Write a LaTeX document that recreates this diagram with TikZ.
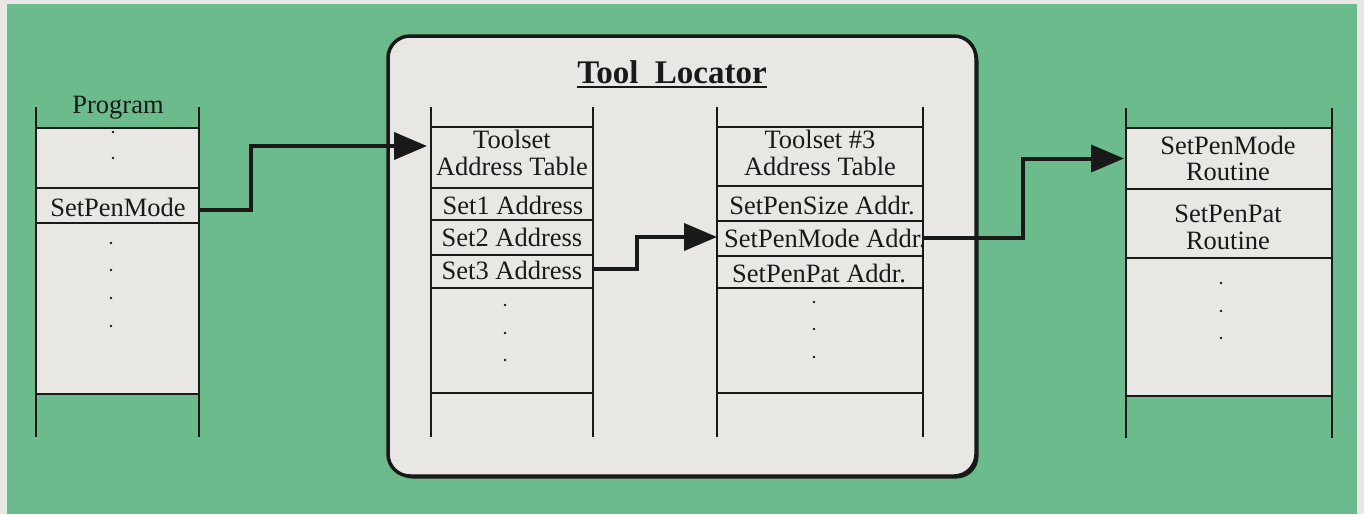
\documentclass[tikz,border=0pt]{standalone}
\usepackage{fontspec}
\setmainfont{Liberation Serif}
\usetikzlibrary{arrows.meta,shadows}
\definecolor{bggreen}{RGB}{108,187,140}
\definecolor{paper}{RGB}{233,231,227}
\definecolor{ink}{RGB}{25,25,25}
\tikzset{
  cell/.style={rectangle, fill=paper, inner sep=0pt, outer sep=0pt},
  txt/.style={anchor=base, inner sep=0pt, font=\fontsize{26.5}{27}\selectfont, text=ink},
  rule/.style={draw=ink, line width=2pt},
  conn/.style={draw=ink, line width=4pt, line join=miter, -{Triangle[length=33pt,width=27pt]}},
  locbox/.style={draw=ink, line width=3.5pt, fill=paper, rounded corners=22pt, inner sep=0pt,
    drop shadow={shadow xshift=2.5pt, shadow yshift=-2.5pt, opacity=1, fill=ink}},
}
\begin{document}
\begin{tikzpicture}[x=1pt,y=-1pt]
\useasboundingbox (0,0) rectangle (1364,514);
% page and green panel
\fill[paper] (0,0) rectangle (1364,514);
\fill[bggreen] (7,4) rectangle (1357,514);

% Tool Locator box
\node[locbox, minimum width=588pt, minimum height=440pt] (locator) at (682,256) {};
\node[anchor=base, inner sep=0pt, text=ink, font=\bfseries\fontsize{33}{35}\selectfont] (title) at (672,83) {Tool\ \ Locator};
\draw[ink, line width=2.3pt] ([yshift=-4pt]title.base west) -- ([yshift=-4pt]title.base east);

% ---------- Stack 1: Program ----------
\node[cell, minimum width=163pt, minimum height=60pt] (s1a) at (117.5,158) {};
\node[cell, minimum width=163pt, minimum height=35pt] (s1b) at (117.5,205.5) {};
\node[cell, minimum width=163pt, minimum height=171pt] (s1c) at (117.5,308.5) {};
\foreach \y in {128,188,223,394} \draw[rule] (36,\y) -- (199,\y);
\draw[rule] (36,107) -- (36,437);
\draw[rule] (199,107) -- (199,437);
\node[txt] (prog) at (118,113) {Program};
\node[txt] (spm) at (118,216) {SetPenMode};
\foreach \y in {132,158} \fill[ink] (113,\y) circle[radius=1.3pt];
\foreach \y in {243,270,298,326} \fill[ink] (111,\y) circle[radius=1.3pt];

% ---------- Stack 2: Toolset Address Table ----------
\node[cell, minimum width=162pt, minimum height=61pt] (t2) at (512,157.5) {};
\node[cell, minimum width=162pt, minimum height=32pt] (s2a) at (512,204) {};
\node[cell, minimum width=162pt, minimum height=35pt] (s2b) at (512,237.5) {};
\node[cell, minimum width=162pt, minimum height=33pt] (s2c) at (512,271.5) {};
\foreach \y in {127,188,220,255,288,393} \draw[rule] (431,\y) -- (593,\y);
\draw[rule] (431,107) -- (431,437);
\draw[rule] (593,107) -- (593,437);
\node[txt] (t2a) at (512,148) {Toolset};
\node[txt] (t2b) at (512,175) {Address Table};
\node[txt] (set1) at (513,214) {Set1 Address};
\node[txt] (set2) at (512,246) {Set2 Address};
\node[txt] (set3) at (512,279) {Set3 Address};
\foreach \y in {305,333,360} \fill[ink] (505,\y) circle[radius=1.3pt];

% ---------- Stack 3: Toolset #3 Address Table ----------
\node[cell, minimum width=206pt, minimum height=59pt] (t3) at (820,156.5) {};
\node[cell, minimum width=206pt, minimum height=35pt] (s3a) at (820,203.5) {};
\node[cell, minimum width=206pt, minimum height=35pt] (s3b) at (820,238.5) {};
\node[cell, minimum width=206pt, minimum height=32pt] (s3c) at (820,272) {};
\foreach \y in {127,186,221,256,288,393} \draw[rule] (717,\y) -- (923,\y);
\draw[rule] (717,107) -- (717,437);
\draw[rule] (923,107) -- (923,437);
\node[txt] (t3a) at (820,148) {Toolset \#3};
\node[txt] (t3b) at (820,175) {Address Table};
\node[txt] (psize) at (822,214) {SetPenSize Addr.};
\node[txt] (pmode) at (825,247) {SetPenMode Addr.};
\node[txt] (ppat) at (819,282) {SetPenPat Addr.};
\foreach \y in {302,329,357} \fill[ink] (814,\y) circle[radius=1.3pt];

% ---------- Stack 4: Routines ----------
\node[cell, minimum width=206pt, minimum height=61pt] (r1) at (1229,158.5) {};
\node[cell, minimum width=206pt, minimum height=69pt] (r2) at (1229,223.5) {};
\node[cell, minimum width=206pt, minimum height=138pt] (r3) at (1229,327) {};
\foreach \y in {128,189,258,396} \draw[rule] (1126,\y) -- (1332,\y);
\draw[rule] (1126,108) -- (1126,438);
\draw[rule] (1332,108) -- (1332,438);
\node[txt] (r1a) at (1228,154) {SetPenMode};
\node[txt] (r1b) at (1228,180) {Routine};
\node[txt] (r2a) at (1228,222) {SetPenPat};
\node[txt] (r2b) at (1228,249) {Routine};
\foreach \y in {283,311,338} \fill[ink] (1221,\y) circle[radius=1.3pt];

% ---------- Connectors ----------
\draw[conn] ([yshift=-4.5pt]s1b.east) -- ++(52,0) |- ([yshift=11.5pt,xshift=-4pt]t2.west);
\draw[conn] ([yshift=2.5pt]s2c.east) -- ++(44,0) |- ([yshift=1.5pt]s3b.west);
\draw[conn] ([yshift=0.5pt]s3b.east) -- ++(100,0) |- ([xshift=-2pt]r1.west);
\end{tikzpicture}
\end{document}
